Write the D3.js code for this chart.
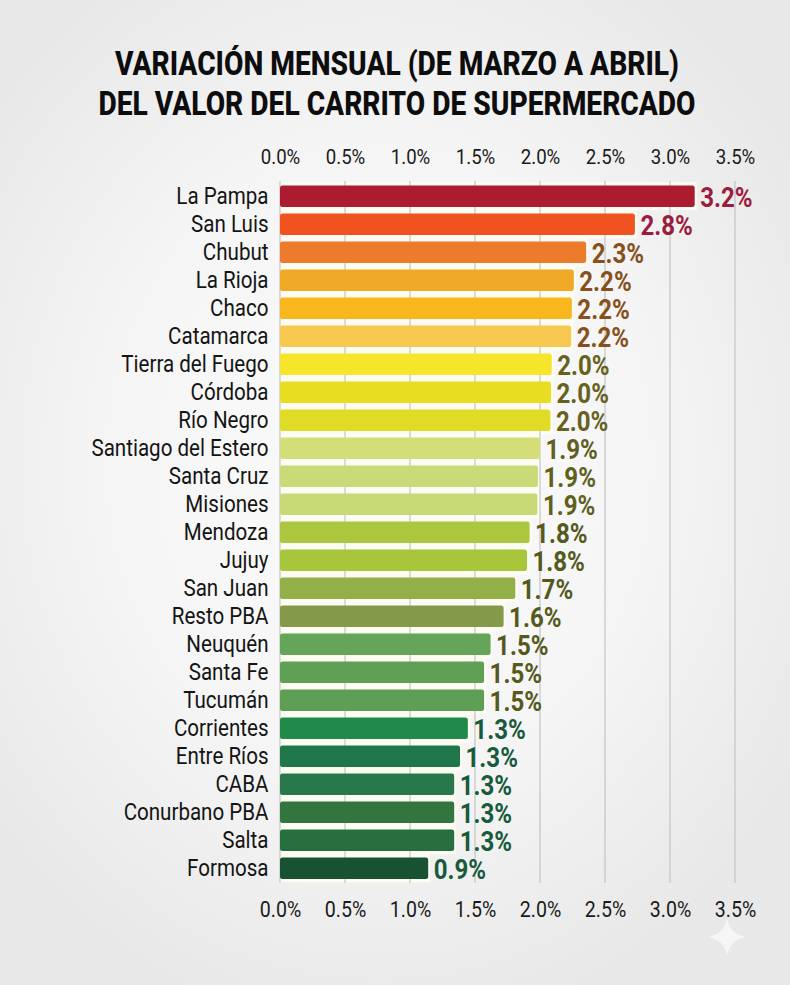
<!doctype html>
<html lang="es">
<head>
<meta charset="utf-8">
<title>Variación mensual del carrito de supermercado</title>
<style>
  html, body { margin: 0; padding: 0; }
  body {
    width: 790px;
    height: 985px;
    overflow: hidden;
    background: radial-gradient(ellipse 62% 58% at 48% 47%, #fbfbfb 0%, #f5f5f5 55%, #e8e8e8 100%);
  }
  svg { display: block; }
  text { font-family: Roboto, sans-serif; }
</style>
</head>
<body>
<svg id="chart" width="790" height="985" viewBox="0 0 790 985"></svg>
<script src="https://cdn.jsdelivr.net/npm/d3@7"></script>
<script>
var titleLines = ["VARIACIÓN MENSUAL (DE MARZO A ABRIL)", "DEL VALOR DEL CARRITO DE SUPERMERCADO"];
var provinces = ["La Pampa", "San Luis", "Chubut", "La Rioja", "Chaco", "Catamarca", "Tierra del Fuego",
  "Córdoba", "Río Negro", "Santiago del Estero", "Santa Cruz", "Misiones", "Mendoza", "Jujuy", "San Juan",
  "Resto PBA", "Neuquén", "Santa Fe", "Tucumán", "Corrientes", "Entre Ríos", "CABA", "Conurbano PBA",
  "Salta", "Formosa"];
// printed labels
var printed = [3.2, 2.8, 2.3, 2.2, 2.2, 2.2, 2.0, 2.0, 2.0, 1.9, 1.9, 1.9, 1.8, 1.8, 1.7, 1.6, 1.5, 1.5, 1.5,
  1.3, 1.3, 1.3, 1.3, 1.3, 0.9];
// bar lengths as drawn, they do not follow the labels exactly
var barLengths = [3.19, 2.73, 2.355, 2.26, 2.245, 2.24, 2.09, 2.085, 2.08, 2.0, 1.985, 1.98, 1.92, 1.9, 1.81,
  1.72, 1.62, 1.57, 1.57, 1.445, 1.385, 1.34, 1.34, 1.34, 1.14];
var barColors = ["#ab1c30", "#f0531f", "#ec7c2b", "#f0a924", "#f7b71d", "#f6c850", "#f6e52b", "#e9dd22", "#e0dc26",
  "#d5dd78", "#c9da79", "#c7da75", "#abc63f", "#a8c63a", "#93b048", "#85994a", "#65a55a", "#5fa055", "#5e9f55",
  "#1f8a4a", "#20784a", "#28784c", "#33753f", "#26703f", "#175232"];
var labelColors = ["#9c1c3e", "#9c1c3e", "#87501b", "#87501b", "#87501b", "#87501b", "#66611c", "#66611c", "#66611c",
  "#5f5f1e", "#5f5f1e", "#5f5f1e", "#55591c", "#55591c", "#55591c", "#55591c", "#55591c", "#55591c", "#55591c",
  "#185a3c", "#185a3c", "#185a3c", "#185a3c", "#185a3c", "#185a3c"];
var ticks = [0, 0.5, 1, 1.5, 2, 2.5, 3, 3.5];

var svg = d3.select("#chart");
var x = d3.scaleLinear().domain([0, 3.5]).range([280, 735]);
var y = d3.scaleBand().domain(provinces).range([182.2, 882.2]).paddingInner(0.23).paddingOuter(0.115);

// no condensed Roboto here, so squeeze it
function narrow(sel, squeeze, px, py) {
  sel.attr("transform", function(d, i) {
    return "translate(" + px(d, i) + "," + py(d, i) + ") scale(" + squeeze + ",1)";
  });
}

svg.selectAll(".title").data(titleLines).join("text")
  .attr("class", "title")
  .attr("text-anchor", "middle")
  .attr("font-size", 32.8)
  .attr("font-weight", 800)
  .attr("fill", "#0d0d0d")
  .text(function(d) { return d; })
  .call(narrow, 0.859, function() { return 397; }, function(d, i) { return 75 + i * 39.5; });

var rows = provinces.map(function(p, i) {
  return { name: p, bar: barLengths[i], label: printed[i], color: barColors[i], labelColor: labelColors[i] };
});

// pale glow the bars sit on
svg.append("g").selectAll("rect").data(rows).join("rect")
  .attr("x", x(0))
  .attr("y", function(d) { return y(d.name) - y.step() * 0.115; })
  .attr("width", function(d) { return x(d.bar) - x(0) + 2; })
  .attr("height", y.step())
  .attr("fill", "#fdfcf3");

// grid
svg.append("g").selectAll("line").data(ticks).join("line")
  .attr("x1", function(d) { return x(d); })
  .attr("x2", function(d) { return x(d); })
  .attr("y1", 181)
  .attr("y2", 883)
  .attr("stroke", "#c4c4c4")
  .attr("stroke-width", 1.2);

function drawAxis(axis, labelY, size) {
  var g = svg.append("g")
    .call(axis.tickValues(ticks).tickSize(0).tickFormat(function(d) { return d.toFixed(1) + "%"; }));
  g.select(".domain").remove();
  g.selectAll("text")
    .attr("y", null).attr("dy", null)
    .attr("font-size", size)
    .attr("font-family", "Roboto, sans-serif")
    .attr("fill", "#1a1a1a")
    .attr("transform", "translate(0," + labelY + ") scale(0.91,1)");
}
drawAxis(d3.axisTop(x), 164, 20.5);
drawAxis(d3.axisBottom(x), 917, 21.5);

svg.append("g").selectAll("rect").data(rows).join("rect")
  .attr("x", x(0))
  .attr("y", function(d) { return y(d.name); })
  .attr("width", function(d) { return x(d.bar) - x(0); })
  .attr("height", y.bandwidth())
  .attr("rx", 2.5)
  .attr("fill", function(d) { return d.color; });

svg.append("g").selectAll("text").data(rows).join("text")
  .attr("text-anchor", "end")
  .attr("font-size", 23.5)
  .attr("fill", "#141414")
  .text(function(d) { return d.name; })
  .call(narrow, 0.875, function() { return 268.5; }, function(d) { return y(d.name) + y.bandwidth() / 2 + 8; });

svg.append("g").selectAll("text").data(rows).join("text")
  .attr("font-size", 27.5)
  .attr("font-weight", 700)
  .attr("fill", function(d) { return d.labelColor; })
  .text(function(d) { return d.label.toFixed(1) + "%"; })
  .call(narrow, 0.875, function(d) { return x(d.bar) + 5.5; }, function(d) { return y(d.name) + y.bandwidth() / 2 + 10.5; });

// sparkle in the corner
var star4 = { draw: function(c, s) {
  var r = Math.sqrt(s), k = r * 0.14;
  c.moveTo(0, -r);
  c.quadraticCurveTo(k, -k, r, 0);
  c.quadraticCurveTo(k, k, 0, r);
  c.quadraticCurveTo(-k, k, -r, 0);
  c.quadraticCurveTo(-k, -k, 0, -r);
  c.closePath();
} };
svg.append("path")
  .attr("d", d3.symbol(star4, 360)())
  .attr("transform", "translate(727,937)")
  .attr("fill", "#f6f6f6");
</script>
</body>
</html>
